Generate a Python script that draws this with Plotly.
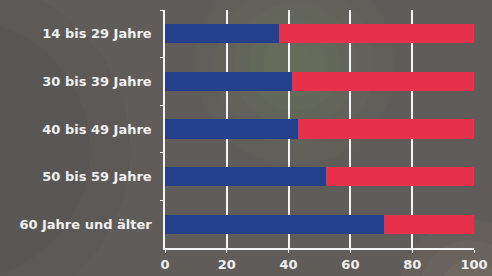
import plotly.graph_objects as go

categories = ["14 bis 29 Jahre", "30 bis 39 Jahre", "40 bis 49 Jahre", "50 bis 59 Jahre", "60 Jahre und älter"]
blue_values = [37, 41, 43, 52, 71]
red_values = [63, 59, 57, 48, 29]
x_ticks = [0, 20, 40, 60, 80, 100]

W, H = 492, 276
L, R, T, B = 165, 18, 10, 28
PW, PH = W - L - R, H - T - B

def px_circle(cx, cy, r, color, opacity):
    return dict(type="circle", xref="paper", yref="paper",
                x0=(cx - r - L) / PW, x1=(cx + r - L) / PW,
                y0=(H - B - (cy + r)) / PH, y1=(H - B - (cy - r)) / PH,
                fillcolor=color, opacity=opacity, line=dict(width=0), layer="below")

shapes = []
for r in [100, 80, 62, 46, 32, 20]:
    shapes.append(px_circle(295, 65, r, "#7f9a6a", 0.06))
for r in [70, 50, 30]:
    shapes.append(px_circle(470, 290, r, "#a89880", 0.08))
for r in [170, 130]:
    shapes.append(px_circle(-40, 150, r, "#4f4c4c", 0.18))

fig = go.Figure()
fig.add_trace(go.Bar(y=categories, x=blue_values, orientation="h",
                     marker=dict(color="#243f8b", line=dict(width=0)), name="a"))
fig.add_trace(go.Bar(y=categories, x=red_values, orientation="h",
                     marker=dict(color="#e8304a", line=dict(width=0)), name="b"))

fig.update_layout(
    width=W, height=H, barmode="stack", bargap=0.6, showlegend=False,
    margin=dict(l=L, r=R, t=T, b=B, pad=0),
    paper_bgcolor="#605c5a", plot_bgcolor="rgba(0,0,0,0)",
    font=dict(family="DejaVu Sans, Liberation Sans, sans-serif", color="#f0f0f0", size=12),
    shapes=shapes,
)
fig.update_xaxes(range=[0, 100], tickvals=x_ticks, showgrid=True, gridcolor="#f4f4f4", gridwidth=1.5,
                 showline=True, linecolor="#f4f4f4", linewidth=1.5, ticks="outside", ticklen=3,
                 tickcolor="#f4f4f4", zeroline=False, automargin=False, ticklabelstandoff=1,
                 tickfont=dict(size=13, weight="bold"), fixedrange=True)
fig.update_yaxes(autorange="reversed", showgrid=False, showline=True, linecolor="#f4f4f4", linewidth=1.5,
                 ticks="outside", tickson="boundaries", ticklen=3, tickcolor="#f4f4f4", automargin=False,
                 ticklabelstandoff=9, tickfont=dict(size=13, weight="bold"), fixedrange=True)

fig.write_html("out.html", config={"displayModeBar": False},
               post_script="document.body.style.margin='0';document.body.style.overflow='hidden';")
